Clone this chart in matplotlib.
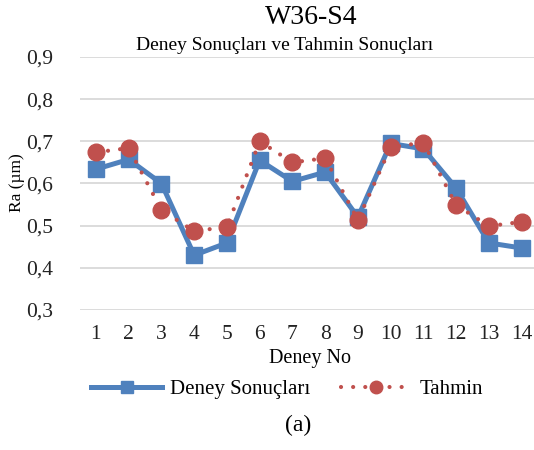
import numpy as np
import matplotlib
matplotlib.use("Agg")
import matplotlib.pyplot as plt
from matplotlib.lines import Line2D
from matplotlib.ticker import FuncFormatter

plt.rcParams["font.family"] = ["Liberation Serif", "DejaVu Serif"]

deney_no = list(range(1, 15))
deney_sonuclari = [0.634, 0.657, 0.600, 0.430, 0.459, 0.655, 0.605, 0.627,
                   0.520, 0.695, 0.682, 0.589, 0.459, 0.447]
tahmin = [0.674, 0.684, 0.537, 0.487, 0.497, 0.700, 0.650, 0.660,
          0.513, 0.686, 0.697, 0.549, 0.499, 0.509]

BLUE = "#4f81bd"
RED = "#c0504d"
RED_DASH = (0, (0.01, 2.9))

fig = plt.figure(figsize=(5.34, 4.5), dpi=100)
ax = fig.add_axes([79.6 / 534, 1 - 310 / 450, (538 - 79.6) / 534, (310 - 57) / 450])

ax.plot(deney_no, deney_sonuclari, color=BLUE, linewidth=3.6, marker="s",
        markersize=11, zorder=3)
ax.plot(deney_no, tahmin, color=RED, linewidth=3.0, linestyle=RED_DASH,
        dash_capstyle="round", marker="o", markersize=12, zorder=4)

ax.set_xlim(0.5, 14.5)
ax.set_ylim(0.3, 0.9)
ax.set_xticks(deney_no)
ax.set_yticks(np.arange(0.3, 0.91, 0.1))
ax.yaxis.set_major_formatter(FuncFormatter(lambda v, p: f"{v:.1f}".replace(".", ",")))
ax.tick_params(length=0, labelsize=15.5, colors="#222222", pad=11)
ax.tick_params(axis="y", pad=19)
ax.grid(axis="y", color="#d9d9d9", linewidth=1.3)
ax.set_axisbelow(True)
for s in ax.spines.values():
    s.set_visible(False)

fig.text(311 / 534, 1 - 18 / 450, "W36-S4", ha="center", va="center", fontsize=20)
fig.text(285 / 534, 1 - 46 / 450, "Deney Sonuçları ve Tahmin Sonuçları",
         ha="center", va="center", fontsize=14)
fig.text(310 / 534, 1 - 359 / 450, "Deney No", ha="center", va="center", fontsize=14.5)
fig.text(17 / 534, 1 - 183 / 450, "Ra (µm)", ha="center", va="center",
         rotation=90, fontsize=12.5)
fig.text(298 / 534, 1 - 425 / 450, "(a)", ha="center", va="center", fontsize=17)

# legend proxies: Excel draws smaller markers in the legend
handles = [
    Line2D([], [], color=BLUE, linewidth=3.6, marker="s", markersize=8),
    Line2D([], [], color=RED, linewidth=3.0, linestyle=RED_DASH,
           dash_capstyle="round", marker="o", markersize=9),
]
fig.legend(handles, ["Deney Sonuçları", "Tahmin"], loc="center",
           bbox_to_anchor=(287 / 534, 1 - 389 / 450), ncol=2,
           frameon=False, fontsize=15, handlelength=3.4, handletextpad=0.35,
           columnspacing=1.5, numpoints=1, borderpad=0)

fig.savefig("out.png", dpi=100)
